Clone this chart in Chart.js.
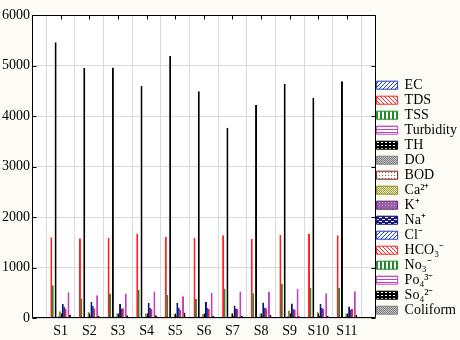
<!DOCTYPE html>
<html lang="en">
<head>
    <meta charset="UTF-8">
    <title>Water quality parameters by station</title>
    <script src="https://cdn.jsdelivr.net/npm/chart.js"></script>
    <style>
        html, body {
            margin: 0;
            padding: 0;
            background: #fcfcf4;
        }
        #wrap {
            width: 460px;
            height: 340px;
        }
    </style>
</head>
<body>
<div id="wrap"><canvas id="myChart" width="460" height="340"></canvas></div>
<script>
    // stations along the x axis
    const stations = ["S1", "S2", "S3", "S4", "S5", "S6", "S7", "S8", "S9", "S10", "S11"];

    // one array per parameter
    const ec        = [0, 0, 0, 0, 0, 0, 0, 0, 0, 0, 0];
    const tds       = [1600, 1580, 1590, 1670, 1610, 1590, 1640, 1570, 1650, 1670, 1640];
    const tss       = [650, 390, 490, 560, 460, 380, 590, 495, 685, 600, 600];
    const turbidity = [0, 0, 0, 0, 0, 0, 0, 0, 0, 0, 0];
    const th        = [5460, 4950, 4960, 4600, 5190, 4490, 3770, 4220, 4640, 4360, 4690];
    const dO        = [0, 0, 0, 0, 0, 0, 0, 0, 0, 0, 0];
    const bod       = [40, 30, 35, 30, 25, 35, 30, 30, 40, 30, 35];
    const ca        = [140, 128, 100, 100, 85, 90, 100, 100, 150, 128, 100];
    const k         = [60, 50, 60, 60, 50, 50, 50, 60, 60, 50, 50];
    const na        = [280, 325, 280, 300, 300, 320, 250, 310, 290, 280, 230];
    const cl        = [230, 240, 190, 200, 210, 200, 190, 210, 180, 200, 170];
    const hco3      = [190, 195, 195, 180, 170, 180, 180, 195, 170, 180, 180];
    const no3       = [15, 12, 15, 12, 10, 12, 15, 12, 15, 12, 10];
    const po4       = [515, 455, 490, 530, 435, 500, 530, 520, 580, 495, 535];
    const so4       = [70, 50, 60, 60, 115, 50, 50, 65, 40, 50, 70];
    const coliform  = [0, 0, 0, 0, 0, 0, 0, 0, 0, 0, 0];

    const seriesNames = ["EC", "TDS", "TSS", "Turbidity", "TH", "DO", "BOD", "Ca²⁺", "K⁺", "Na⁺",
                         "Cl⁻", "HCO₃⁻", "No₃⁻", "Po₄³⁻", "So₄²⁻", "Coliform"];
    const seriesData = [ec, tds, tss, turbidity, th, dO, bod, ca, k, na, cl, hco3, no3, po4, so4, coliform];

    const yTicks = [0, 1000, 2000, 3000, 4000, 5000, 6000];

    // small tiles for hatched fills
    function tile(w, h, paint) {
        const c = document.createElement("canvas");
        c.width = w;
        c.height = h;
        const g = c.getContext("2d");
        paint(g);
        return g.createPattern(c, "repeat");
    }

    function px(g, x, y, col) {
        g.fillStyle = col;
        g.fillRect(x, y, 1, 1);
    }

    const hatch = {
        diagR: (col) => tile(4, 4, g => {
            g.fillStyle = "#fff"; g.fillRect(0, 0, 4, 4);
            for (let y = 0; y < 4; y++) for (let x = 0; x < 4; x++) {
                if ((x + y) % 4 === 3) px(g, x, y, col);
            }
        }),
        diagL: (col) => tile(4, 4, g => {
            g.fillStyle = "#fff"; g.fillRect(0, 0, 4, 4);
            for (let y = 0; y < 4; y++) for (let x = 0; x < 4; x++) {
                if ((x - y + 4) % 4 === 0) px(g, x, y, col);
            }
        }),
        vert: (col) => tile(4, 1, g => {
            g.fillStyle = "#fff"; g.fillRect(0, 0, 4, 1);
            g.fillStyle = col; g.fillRect(0, 0, 2, 1);
        }),
        horiz: (col) => tile(1, 3, g => {
            g.fillStyle = "#fff"; g.fillRect(0, 0, 1, 3);
            g.fillStyle = col; g.fillRect(0, 0, 1, 1);
        }),
        grid: (col) => tile(4, 3, g => {
            g.fillStyle = col; g.fillRect(0, 0, 4, 3);
            g.fillStyle = "#fff"; g.fillRect(1, 1, 2, 1);
        }),
        dots: (a, b) => tile(2, 2, g => {
            g.fillStyle = b; g.fillRect(0, 0, 2, 2);
            px(g, 0, 0, a); px(g, 1, 1, a);
        }),
        spots: (bg, dot) => tile(3, 3, g => {
            g.fillStyle = bg; g.fillRect(0, 0, 3, 3);
            px(g, 1, 1, dot);
        }),
        brick: (col) => tile(6, 4, g => {
            g.fillStyle = col; g.fillRect(0, 0, 6, 4);
            g.fillStyle = "#fff";
            g.fillRect(1, 1, 3, 1);
            g.fillRect(4, 3, 2, 1);
            g.fillRect(0, 3, 1, 1);
        })
    };

    const edgeColors = ["#2040c0", "#ff2020", "#1f8a2a", "#c040c0", "#000000", "#808080", "#801818", "#8a8a20",
                        "#602070", "#10107a", "#2040c0", "#ff2020", "#1f8a2a", "#c040c0", "#000000", "#808080"];

    const fills = [
        hatch.diagR("#2040c0"),
        hatch.diagL("#ff2020"),
        hatch.vert("#1f8a2a"),
        hatch.horiz("#c040c0"),
        hatch.grid("#000000"),
        hatch.dots("#7a7a7a", "#c8c8c8"),
        hatch.spots("#ffffff", "#b05050"),
        hatch.dots("#a0a040", "#eeeec0"),
        hatch.spots("#9860a8", "#c498cc"),
        hatch.brick("#14147a"),
        hatch.diagR("#2040c0"),
        hatch.diagL("#ff2020"),
        hatch.vert("#1f8a2a"),
        hatch.horiz("#c040c0"),
        hatch.grid("#000000"),
        hatch.dots("#7a7a7a", "#c8c8c8")
    ];

    // blank slot at each end so the stations sit one step in from the frame
    const xLabels = ["", ...stations, ""];

    const datasets = seriesNames.map((name, i) => ({
        label: name,
        data: [null, ...seriesData[i], null],
        backgroundColor: fills[i],
        borderColor: edgeColors[i],
        borderWidth: { left: 1, right: 1, top: 1, bottom: 0 }
    }));

    // white plot area, black box and inward ticks
    const framePlugin = {
        id: "frame",
        beforeDraw(chart) {
            const { ctx, chartArea: a } = chart;
            ctx.save();
            ctx.fillStyle = "#ffffff";
            ctx.fillRect(a.left, a.top, a.right - a.left, a.bottom - a.top);
            ctx.restore();
        },
        afterDraw(chart) {
            const { ctx, chartArea: a, scales } = chart;
            const l = Math.round(a.left) + 0.5, r = Math.round(a.right) - 0.5;
            const t = Math.round(a.top) + 0.5, b = Math.round(a.bottom) - 0.5;
            ctx.save();
            ctx.strokeStyle = "#000";
            ctx.lineWidth = 1;
            ctx.beginPath();
            ctx.rect(l, t, r - l, b - t);
            for (let i = 1; i < xLabels.length - 1; i++) {
                const x = Math.round(scales.x.getPixelForTick(i)) + 0.5;
                ctx.moveTo(x, t); ctx.lineTo(x, t + 4);
                ctx.moveTo(x, b); ctx.lineTo(x, b - 4);
            }
            scales.y.ticks.forEach((tk, i) => {
                const y = Math.round(scales.y.getPixelForTick(i)) + 0.5;
                ctx.moveTo(l, y); ctx.lineTo(l + 4, y);
                ctx.moveTo(r, y); ctx.lineTo(r - 4, y);
            });
            ctx.stroke();
            ctx.restore();
        }
    };

    Chart.defaults.font.family = "'Liberation Serif', 'Times New Roman', serif";
    Chart.defaults.color = "#000";

    const ctx = document.getElementById("myChart").getContext("2d");
    const myChart = new Chart(ctx, {
        type: "bar",
        data: {
            labels: xLabels,
            datasets: datasets
        },
        options: {
            responsive: false,
            animation: false,
            layout: {
                padding: { top: 15, right: -7, bottom: -5, left: 0 }
            },
            datasets: {
                bar: {
                    categoryPercentage: 0.8,
                    barPercentage: 1.4
                }
            },
            plugins: {
                tooltip: { enabled: false },
                legend: {
                    position: "right",
                    align: "end",
                    fullSize: false,
                    labels: {
                        boxWidth: 21,
                        boxHeight: 8,
                        padding: 1,
                        color: "#000",
                        font: { size: 14 },
                        generateLabels(chart) {
                            const items = Chart.defaults.plugins.legend.labels.generateLabels(chart);
                            items.forEach((it, i) => {
                                it.lineWidth = 1;
                                it.strokeStyle = edgeColors[i];
                            });
                            return items;
                        }
                    }
                }
            },
            scales: {
                x: {
                    offset: false,
                    grid: { color: "#dadada", drawTicks: false },
                    border: { display: false },
                    ticks: {
                        autoSkip: false,
                        maxRotation: 0,
                        padding: 5,
                        font: { size: 14 }
                    }
                },
                y: {
                    min: yTicks[0],
                    max: yTicks[yTicks.length - 1],
                    grid: { color: "#dadada", drawTicks: false },
                    border: { display: false },
                    afterBuildTicks(scale) {
                        scale.ticks = yTicks.map(v => ({ value: v }));
                    },
                    ticks: {
                        padding: 2,
                        font: { size: 14 },
                        callback: v => String(v)
                    }
                }
            }
        },
        plugins: [framePlugin]
    });
</script>
</body>
</html>
